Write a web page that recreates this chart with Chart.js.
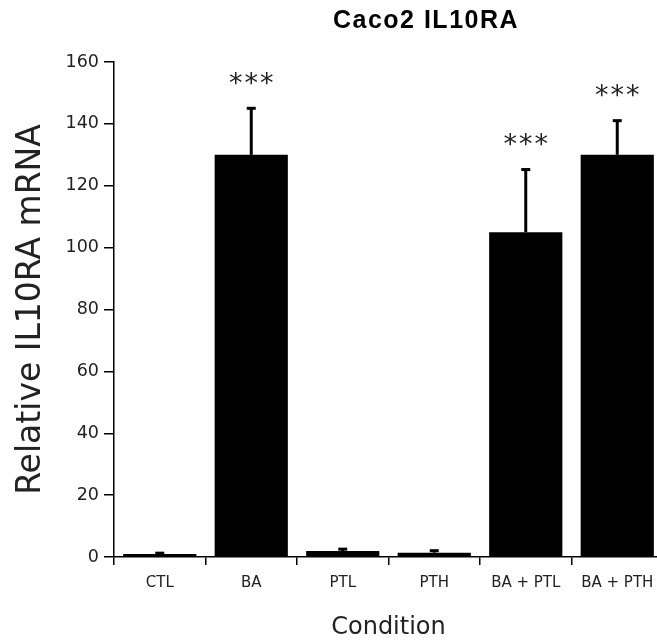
<!DOCTYPE html>
<html>
<head>
<meta charset="utf-8">
<script src="https://cdn.jsdelivr.net/npm/chart.js@4"></script>
<style>
  html, body { margin: 0; padding: 0; background: #fff; overflow: hidden; }
  #wrap { width: 657px; height: 642px; overflow: hidden; }
</style>
</head>
<body>
<div id="wrap"><canvas id="chart" width="670" height="642"></canvas></div>
<script>
// Datos
const condiciones = ['CTL', 'BA', 'PTL', 'PTH', 'BA + PTL', 'BA + PTH'];
const medias = [1.0, 130, 1.9, 1.4, 105, 130];
const errores = [0.4, 15.2, 0.8, 0.8, 20.4, 11.2];
const significancia = ['', '***', '', '', '***', '***'];
const ticksY = [0, 20, 40, 60, 80, 100, 120, 140, 160];

// Plugin para barras de error, asteriscos y título
const extras = {
  id: 'extras',
  afterDatasetsDraw(chart) {
    const ctx = chart.ctx;
    const y = chart.scales.y;
    const meta = chart.getDatasetMeta(0);
    ctx.save();
    ctx.strokeStyle = '#000';
    ctx.fillStyle = '#000';
    meta.data.forEach((bar, i) => {
      const x = bar.x;
      const yBase = y.getPixelForValue(medias[i]);
      const yTop = y.getPixelForValue(medias[i] + errores[i]);
      ctx.lineWidth = 3;
      ctx.beginPath();
      ctx.moveTo(x, yBase);
      ctx.lineTo(x, yTop);
      ctx.stroke();
      ctx.fillRect(x - 4.5, yTop - 1, 9, 3);
      if (significancia[i]) {
        ctx.font = '27px "DejaVu Sans"';
        ctx.letterSpacing = '2px';
        ctx.fillStyle = '#222';
        ctx.textAlign = 'center';
        ctx.textBaseline = 'alphabetic';
        ctx.fillText(significancia[i], x + 1, yTop - 16);
        ctx.letterSpacing = '0px';
        ctx.fillStyle = '#000';
      }
    });
    ctx.restore();
  },
  afterDraw(chart) {
    const ctx = chart.ctx;
    ctx.save();
    ctx.font = 'bold 25px "Liberation Sans", Arial, sans-serif';
    ctx.letterSpacing = '1.5px';
    ctx.fillStyle = '#000';
    ctx.textAlign = 'center';
    ctx.textBaseline = 'alphabetic';
    ctx.fillText('Caco2 IL10RA', 426, 28);
    ctx.restore();
  }
};

new Chart(document.getElementById('chart'), {
  type: 'bar',
  data: {
    labels: condiciones,
    datasets: [{
      data: medias,
      backgroundColor: '#000',
      borderWidth: 0,
      barPercentage: 0.8,
      categoryPercentage: 1.0
    }]
  },
  options: {
    responsive: false,
    animation: false,
    layout: { padding: { top: 62, right: 7, left: 0, bottom: 0 } },
    plugins: {
      legend: { display: false },
      tooltip: { enabled: false },
      title: { display: false }
    },
    scales: {
      x: {
        afterFit: s => { s.height = 85; },
        grid: { drawOnChartArea: false, drawTicks: true, tickLength: 8, color: '#000', lineWidth: 1.5, offset: true },
        border: { display: true, color: '#000', width: 1.5 },
        ticks: { color: '#222', font: { family: 'DejaVu Sans', size: 15 }, padding: 9, maxRotation: 0, autoSkip: false },
        title: { display: true, text: 'Condition', color: '#222', font: { family: 'DejaVu Sans', size: 24 }, padding: 0 }
      },
      y: {
        min: 0,
        max: 160,
        afterFit: s => { s.width = 114; },
        afterBuildTicks: s => { s.ticks = ticksY.map(v => ({ value: v })); },
        grid: { drawOnChartArea: false, drawTicks: true, tickLength: 10, color: '#000', lineWidth: 1.5 },
        border: { display: true, color: '#000', width: 1.5 },
        ticks: { color: '#222', font: { family: 'DejaVu Sans', size: 17.5 }, padding: 5 },
        title: { display: true, text: 'Relative IL10RA mRNA', color: '#222', font: { family: 'DejaVu Sans', size: 33 }, padding: { top: 12, bottom: 0 } }
      }
    }
  },
  plugins: [extras]
});
</script>
</body>
</html>
